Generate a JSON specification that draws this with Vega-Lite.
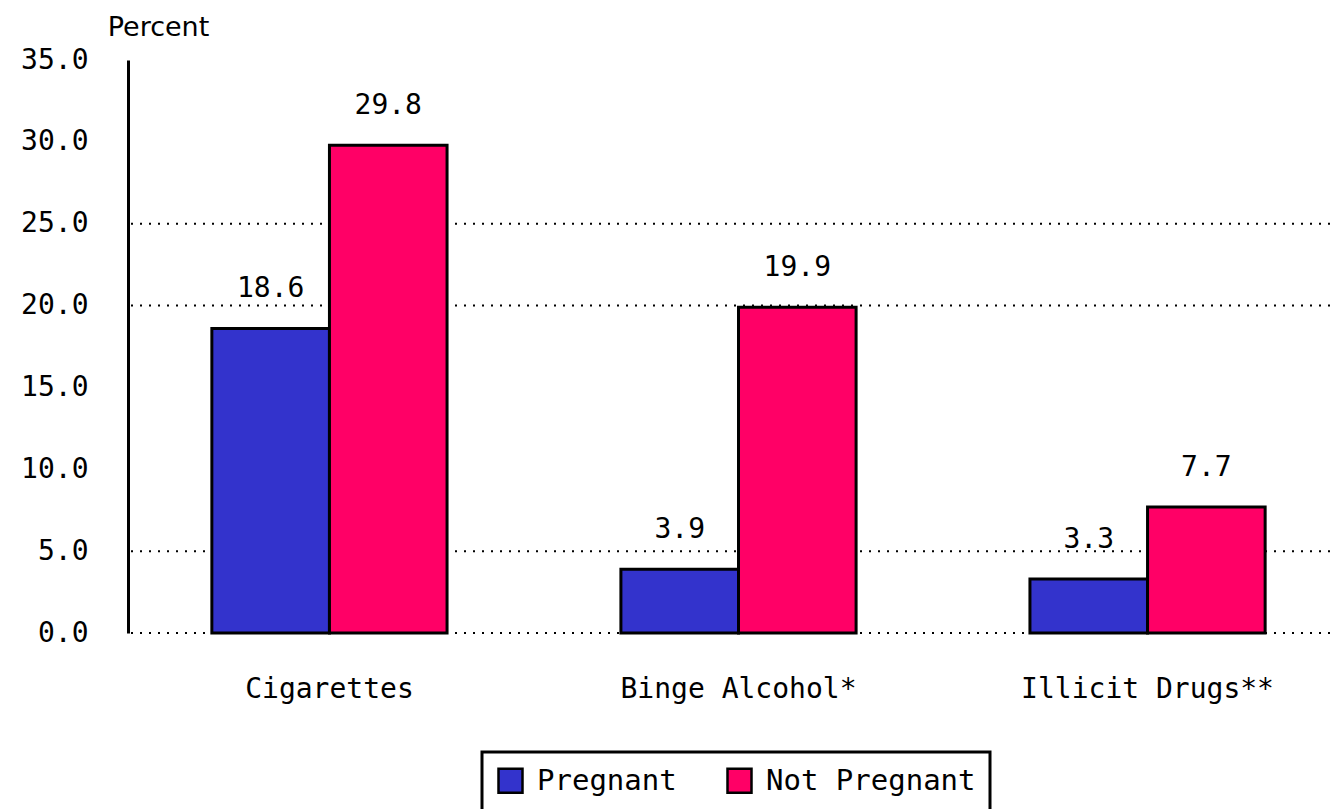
{
  "$schema": "https://vega.github.io/schema/vega-lite/v6.json",
  "width": 1202,
  "height": 573,
  "autosize": "none",
  "padding": {"left": 128, "top": 60, "right": 7, "bottom": 176},
  "background": "white",
  "config": {
    "view": {"stroke": null},
    "font": "DejaVu Sans Mono",
    "legend": {"strokeWidth": 3}
  },
  "data": {
    "values": [
      {"category": "Cigarettes", "group": "Pregnant", "value": 18.6},
      {"category": "Cigarettes", "group": "Not Pregnant", "value": 29.8},
      {"category": "Binge Alcohol*", "group": "Pregnant", "value": 3.9},
      {"category": "Binge Alcohol*", "group": "Not Pregnant", "value": 19.9},
      {"category": "Illicit Drugs**", "group": "Pregnant", "value": 3.3},
      {"category": "Illicit Drugs**", "group": "Not Pregnant", "value": 7.7}
    ]
  },
  "layer": [
    {
      "data": {"values": [{"g": 0}, {"g": 5}, {"g": 20}, {"g": 25}]},
      "mark": {"type": "rule", "strokeDash": [2, 7], "strokeWidth": 2, "color": "black"},
      "encoding": {
        "y": {
          "field": "g", "type": "quantitative", "scale": {"domain": [0, 35]},
          "axis": {
            "title": "Percent", "titleAngle": 0, "titleX": 30, "titleY": -25, "titleAlign": "center",
            "titleBaseline": "alphabetic", "titleFont": "DejaVu Sans", "titleFontWeight": "normal",
            "titleFontSize": 27, "titleColor": "black",
            "values": [0, 5, 10, 15, 20, 25, 30, 35], "format": ".1f",
            "grid": false, "ticks": false, "domain": true, "domainColor": "black", "domainWidth": 3,
            "labelFontSize": 28, "labelFont": "DejaVu Sans Mono", "labelColor": "black", "labelPadding": 40
          }
        }
      }
    },
    {
      "mark": {"type": "bar", "stroke": "black", "strokeWidth": 3},
      "encoding": {
        "x": {
          "field": "category", "type": "nominal",
          "sort": ["Cigarettes", "Binge Alcohol*", "Illicit Drugs**"],
          "scale": {"range": [0, 1221], "paddingInner": 0.425, "paddingOuter": 0.205},
          "axis": {"title": null, "domain": false, "ticks": false, "labelAngle": 0, "labelLimit": 0,
                   "labelFontSize": 28, "labelFont": "DejaVu Sans Mono", "labelColor": "black", "labelPadding": 42}
        },
        "xOffset": {"field": "group", "type": "nominal", "sort": ["Pregnant", "Not Pregnant"], "scale": {"paddingInner": 0}},
        "y": {
          "field": "value", "type": "quantitative",
          "scale": {"domain": [0, 35]},
          "axis": {
            "title": "Percent", "titleAngle": 0, "titleX": 30, "titleY": -25, "titleAlign": "center",
            "titleBaseline": "alphabetic", "titleFont": "DejaVu Sans", "titleFontWeight": "normal",
            "titleFontSize": 27, "titleColor": "black",
            "values": [0, 5, 10, 15, 20, 25, 30, 35], "format": ".1f",
            "grid": false, "ticks": false, "domain": true, "domainColor": "black", "domainWidth": 3,
            "labelFontSize": 28, "labelFont": "DejaVu Sans Mono", "labelColor": "black", "labelPadding": 40
          }
        },
        "color": {
          "field": "group", "type": "nominal",
          "scale": {"domain": ["Pregnant", "Not Pregnant"], "range": ["#3333CC", "#FF0066"]},
          "legend": {
            "title": null, "orient": "none", "legendX": 354, "legendY": 692, "direction": "horizontal",
            "strokeColor": "black", "fillColor": "white", "padding": 14,
            "symbolType": "square", "symbolSize": 576, "symbolStrokeColor": "black", "symbolStrokeWidth": 2.5,
            "symbolOpacity": 1, "labelFontSize": 29, "labelFont": "DejaVu Sans Mono", "labelColor": "black",
            "labelOffset": 12, "columnPadding": 45, "labelLimit": 0
          }
        }
      }
    },
    {
      "mark": {"type": "text", "dy": -31, "baseline": "alphabetic", "fontSize": 28, "font": "DejaVu Sans Mono", "color": "black"},
      "encoding": {
        "x": {"field": "category", "type": "nominal", "sort": ["Cigarettes", "Binge Alcohol*", "Illicit Drugs**"]},
        "xOffset": {"field": "group", "type": "nominal", "sort": ["Pregnant", "Not Pregnant"]},
        "y": {"field": "value", "type": "quantitative"},
        "text": {"field": "value", "type": "quantitative", "format": ".1f"}
      }
    }
  ]
}
